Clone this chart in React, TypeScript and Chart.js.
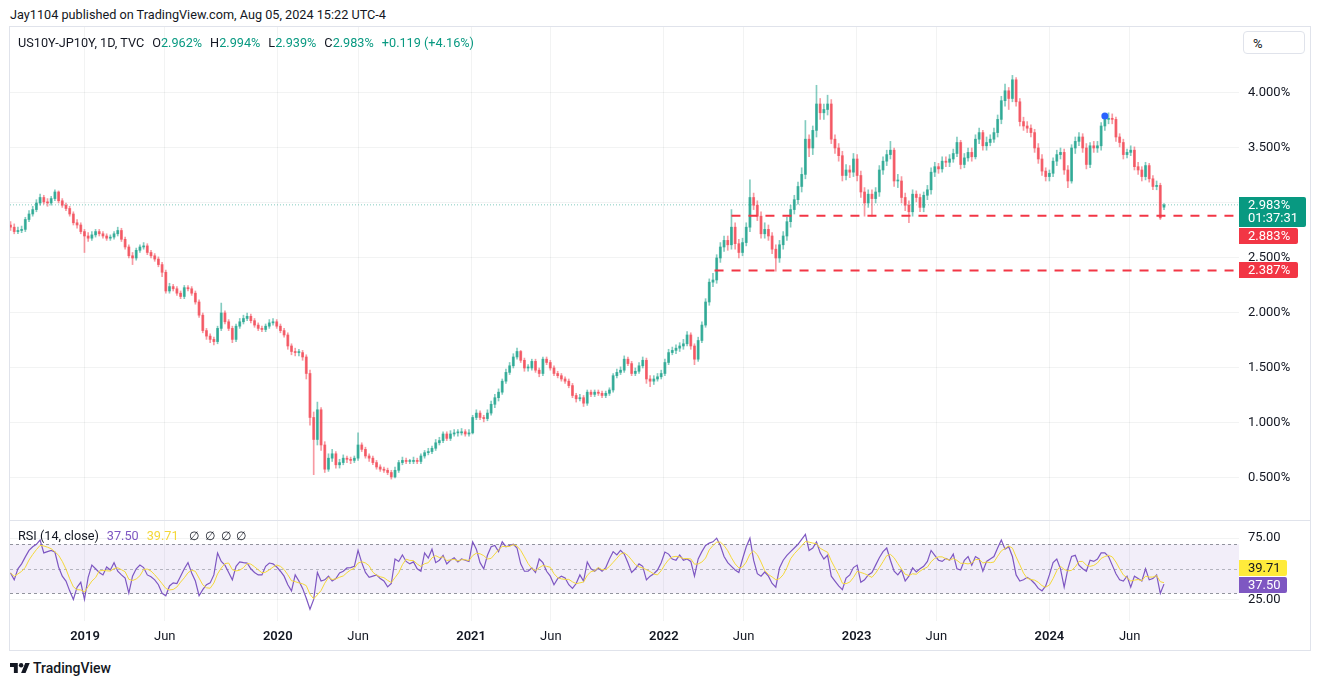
import React, { useEffect, useRef } from "react";
import { Chart, registerables } from "chart.js";
Chart.register(...registerables);

const FONT = "Roboto, 'Liberation Sans', Arial, sans-serif";
const TEXT = "#131722";
const UP = "#089981";
const DOWN = "#F23645";
const GRID = "rgba(42,46,57,0.06)";
const RSI_COLOR = "#7E57C2";
const MA_COLOR = "#F4D83A";

// ---------- data ----------
const firstBarDate = "2018-08-13"; // weekly bars, Monday dates
const firstOpen = 2.8;
const lastOpen = 2.962;

const closes = [
  2.78, 2.74, 2.75, 2.76, 2.85, 2.9, 2.94, 3.0, 3.05, 3.01,
  3.0, 3.04, 3.1, 3.02, 2.98, 2.95, 2.9, 2.82, 2.8, 2.74,
  2.7, 2.68, 2.71, 2.74, 2.72, 2.7, 2.68, 2.69, 2.72, 2.75,
  2.67, 2.6, 2.52, 2.5, 2.57, 2.6, 2.61, 2.55, 2.52, 2.49,
  2.44, 2.37, 2.2, 2.24, 2.22, 2.18, 2.15, 2.23, 2.22, 2.18,
  2.1, 1.98, 1.84, 1.79, 1.76, 1.74, 1.86, 2.0, 1.92, 1.86,
  1.76, 1.88, 1.92, 1.95, 1.97, 1.93, 1.89, 1.86, 1.85, 1.88,
  1.91, 1.92, 1.88, 1.84, 1.8, 1.7, 1.65, 1.64, 1.64, 1.6,
  1.45, 1.05, 0.85, 1.12, 0.8, 0.58, 0.68, 0.72, 0.62, 0.64,
  0.68, 0.67, 0.66, 0.68, 0.8, 0.76, 0.7, 0.68, 0.64, 0.6,
  0.58, 0.57, 0.55, 0.51, 0.57, 0.64, 0.66, 0.65, 0.65, 0.66,
  0.65, 0.7, 0.73, 0.74, 0.77, 0.82, 0.84, 0.9, 0.86, 0.9,
  0.91, 0.91, 0.92, 0.9, 0.91, 1.05, 1.09, 1.05, 1.04, 1.09,
  1.17, 1.23, 1.28, 1.38, 1.46, 1.52, 1.6, 1.65, 1.57, 1.5,
  1.5, 1.56, 1.48, 1.45, 1.58, 1.55, 1.5, 1.45, 1.43, 1.4,
  1.38, 1.34, 1.25, 1.22, 1.23, 1.18, 1.28, 1.26, 1.28, 1.27,
  1.25, 1.27, 1.3, 1.43, 1.46, 1.48, 1.58, 1.54, 1.45, 1.47,
  1.52, 1.57, 1.4, 1.38, 1.4, 1.42, 1.45, 1.55, 1.64, 1.66,
  1.68, 1.7, 1.72, 1.8, 1.7, 1.58, 1.75, 1.89, 2.1, 2.28,
  2.3, 2.5, 2.6, 2.66, 2.62, 2.78, 2.63, 2.55, 2.64, 2.78,
  3.05, 2.98, 2.88, 2.72, 2.76, 2.7, 2.58, 2.5, 2.62, 2.7,
  2.83, 2.94, 3.03, 3.15, 3.26, 3.58, 3.5, 3.66, 3.9, 3.82,
  3.85, 3.9, 3.58, 3.5, 3.43, 3.25, 3.3, 3.28, 3.4, 3.25,
  3.1, 3.0, 3.08, 3.04, 3.1, 3.3, 3.38, 3.44, 3.48, 3.2,
  3.2, 3.05, 2.98, 2.92, 3.08, 3.05, 2.96, 3.07, 3.12, 3.28,
  3.33, 3.31, 3.38, 3.37, 3.4, 3.45, 3.55, 3.35, 3.41, 3.46,
  3.42, 3.58, 3.64, 3.52, 3.55, 3.58, 3.64, 3.76, 3.93, 4.02,
  3.95, 4.12, 3.92, 3.74, 3.7, 3.68, 3.64, 3.5, 3.4, 3.29,
  3.24, 3.27, 3.38, 3.44, 3.46, 3.3, 3.2, 3.5, 3.56, 3.6,
  3.5, 3.35, 3.52, 3.5, 3.52, 3.7, 3.76, 3.77, 3.76, 3.6,
  3.55, 3.44, 3.46, 3.48, 3.33, 3.3, 3.24, 3.34, 3.22, 3.15,
  3.16, 2.864, 2.983,
];

const highs = [
  2.83, 2.81, 2.78, 2.79, 2.87, 2.93, 2.97, 3.03, 3.08, 3.07,
  3.04, 3.06, 3.12, 3.11, 3.04, 3.0, 2.97, 2.92, 2.85, 2.82,
  2.76, 2.73, 2.74, 2.76, 2.76, 2.74, 2.72, 2.71, 2.74, 2.78,
  2.77, 2.69, 2.62, 2.55, 2.59, 2.62, 2.64, 2.63, 2.57, 2.54,
  2.51, 2.46, 2.39, 2.27, 2.26, 2.24, 2.2, 2.25, 2.25, 2.24,
  2.2, 2.12, 2.0, 1.86, 1.81, 1.78, 1.88, 2.09, 2.02, 1.94,
  1.88, 1.9, 1.95, 1.98, 2.0, 1.99, 1.95, 1.91, 1.88, 1.9,
  1.94, 1.95, 1.94, 1.9, 1.86, 1.82, 1.72, 1.68, 1.67, 1.66,
  1.62, 1.48, 1.1, 1.19, 1.14, 0.83, 0.72, 0.76, 0.74, 0.67,
  0.71, 0.7, 0.69, 0.7, 0.91, 0.82, 0.78, 0.72, 0.7, 0.66,
  0.62, 0.6, 0.59, 0.57, 0.6, 0.66, 0.69, 0.68, 0.67, 0.69,
  0.68, 0.72, 0.75, 0.77, 0.79, 0.85, 0.87, 0.92, 0.92, 0.93,
  0.94, 0.94, 0.95, 0.94, 0.94, 1.07, 1.12, 1.11, 1.07, 1.12,
  1.2, 1.26, 1.31, 1.4, 1.49, 1.55, 1.63, 1.68, 1.66, 1.59,
  1.53, 1.58, 1.58, 1.5, 1.6, 1.6, 1.57, 1.52, 1.47, 1.45,
  1.42, 1.4, 1.36, 1.27, 1.26, 1.25, 1.3, 1.3, 1.3, 1.3,
  1.29, 1.29, 1.32, 1.45, 1.49, 1.51, 1.61, 1.6, 1.56, 1.5,
  1.55, 1.6, 1.59, 1.43, 1.43, 1.45, 1.48, 1.58, 1.67, 1.69,
  1.71, 1.73, 1.76, 1.83, 1.82, 1.72, 1.78, 1.92, 2.13, 2.31,
  2.36, 2.53, 2.64, 2.7, 2.7, 2.94, 2.82, 2.67, 2.68, 2.82,
  3.21, 3.09, 3.02, 2.92, 2.82, 2.8, 2.73, 2.62, 2.66, 2.74,
  2.87, 2.98, 3.07, 3.19, 3.32, 3.75, 3.62, 3.7, 4.07, 3.95,
  3.9, 3.98, 3.94, 3.62, 3.54, 3.47, 3.35, 3.34, 3.45, 3.44,
  3.29, 3.14, 3.12, 3.12, 3.14, 3.34, 3.42, 3.48, 3.56, 3.5,
  3.26, 3.24, 3.09, 3.02, 3.12, 3.11, 3.08, 3.1, 3.16, 3.32,
  3.37, 3.36, 3.42, 3.42, 3.44, 3.49, 3.6, 3.57, 3.45, 3.5,
  3.5, 3.62, 3.68, 3.66, 3.6, 3.62, 3.68, 3.8, 3.97, 4.08,
  4.05, 4.16, 4.14, 3.95, 3.78, 3.74, 3.71, 3.67, 3.54, 3.44,
  3.32, 3.3, 3.41, 3.48, 3.5, 3.49, 3.34, 3.53, 3.6, 3.64,
  3.63, 3.54, 3.55, 3.56, 3.56, 3.73, 3.8, 3.82, 3.81, 3.78,
  3.63, 3.58, 3.49, 3.52, 3.51, 3.37, 3.33, 3.37, 3.36, 3.25,
  3.2, 3.18, 2.994,
];

const lows = [
  2.75, 2.72, 2.72, 2.73, 2.74, 2.83, 2.88, 2.92, 2.98, 2.99,
  2.97, 2.98, 3.02, 3.0, 2.96, 2.93, 2.88, 2.8, 2.77, 2.72,
  2.55, 2.65, 2.66, 2.69, 2.7, 2.68, 2.66, 2.66, 2.67, 2.7,
  2.65, 2.58, 2.5, 2.44, 2.48, 2.55, 2.58, 2.53, 2.5, 2.47,
  2.42, 2.33, 2.18, 2.18, 2.2, 2.16, 2.13, 2.13, 2.2, 2.16,
  2.08, 1.96, 1.82, 1.76, 1.73, 1.71, 1.72, 1.84, 1.9, 1.84,
  1.73, 1.74, 1.86, 1.9, 1.93, 1.91, 1.87, 1.84, 1.83, 1.83,
  1.86, 1.89, 1.86, 1.82, 1.78, 1.67, 1.62, 1.61, 1.61, 1.57,
  1.4, 0.98, 0.53, 0.8, 0.75, 0.55, 0.56, 0.65, 0.59, 0.59,
  0.62, 0.64, 0.63, 0.64, 0.66, 0.74, 0.68, 0.65, 0.62, 0.58,
  0.56, 0.55, 0.53, 0.49, 0.5, 0.55, 0.62, 0.63, 0.63, 0.63,
  0.63, 0.63, 0.68, 0.71, 0.72, 0.75, 0.8, 0.82, 0.84, 0.84,
  0.88, 0.88, 0.89, 0.88, 0.88, 0.9, 1.03, 1.03, 1.01, 1.02,
  1.07, 1.14, 1.2, 1.26, 1.36, 1.44, 1.5, 1.58, 1.55, 1.47,
  1.47, 1.48, 1.46, 1.42, 1.43, 1.53, 1.48, 1.43, 1.41, 1.38,
  1.36, 1.32, 1.23, 1.19, 1.2, 1.15, 1.16, 1.24, 1.24, 1.25,
  1.23, 1.23, 1.25, 1.28, 1.41, 1.44, 1.46, 1.52, 1.43, 1.43,
  1.45, 1.5, 1.36, 1.33, 1.35, 1.38, 1.4, 1.43, 1.53, 1.62,
  1.63, 1.65, 1.67, 1.7, 1.67, 1.53, 1.56, 1.73, 1.87, 2.07,
  2.24, 2.27, 2.46, 2.56, 2.57, 2.58, 2.58, 2.5, 2.52, 2.61,
  2.74, 2.94, 2.84, 2.68, 2.68, 2.66, 2.54, 2.38, 2.46, 2.58,
  2.66, 2.78, 2.9, 2.99, 3.1, 3.22, 3.42, 3.44, 3.6, 3.76,
  3.76, 3.8, 3.54, 3.45, 3.38, 3.2, 3.21, 3.23, 3.24, 3.2,
  3.05, 2.88, 2.96, 2.88, 3.0, 3.06, 3.26, 3.34, 3.4, 3.15,
  3.14, 3.0, 2.93, 2.82, 2.88, 3.01, 2.92, 2.92, 3.03, 3.08,
  3.24, 3.27, 3.28, 3.33, 3.33, 3.37, 3.42, 3.31, 3.32, 3.38,
  3.38, 3.4, 3.54, 3.48, 3.48, 3.52, 3.55, 3.6, 3.72, 3.88,
  3.85, 3.92, 3.88, 3.7, 3.66, 3.64, 3.6, 3.46, 3.36, 3.25,
  3.2, 3.2, 3.24, 3.34, 3.4, 3.26, 3.14, 3.18, 3.45, 3.52,
  3.46, 3.31, 3.32, 3.46, 3.46, 3.48, 3.66, 3.72, 3.72, 3.56,
  3.51, 3.4, 3.41, 3.43, 3.3, 3.26, 3.2, 3.21, 3.19, 3.12,
  3.12, 2.85, 2.939,
];

const rsiValues = [
  46.6, 41, 50, 54, 59.7, 65, 68, 70, 73.5, 63,
  64, 65, 63.7, 51.5, 44, 40, 32, 25, 35, 39,
  25, 43, 53, 50, 47, 45, 51.5, 49, 55, 48,
  45, 42.5, 30.2, 44, 50, 53, 51, 45, 43.5, 41,
  37, 30, 28, 36, 38.5, 38, 44, 50, 55, 46.6,
  40, 28, 33, 37, 38.5, 45, 62.9, 56, 53, 47,
  41, 52, 55.6, 55, 54.7, 50, 47, 45, 45, 52,
  54.7, 54, 51.5, 48, 44, 37, 32, 45, 40, 34,
  26, 17, 25, 47, 40, 41, 44, 40, 42, 46.6,
  48, 50.7, 51, 52, 65, 55, 47, 43, 44, 45,
  42, 40, 35.2, 38, 58, 56, 61.3, 56, 54, 55.6,
  50, 48, 63, 58.8, 66, 55, 57, 61, 54, 57,
  59, 55.6, 58, 57, 56, 72, 66, 55, 50, 61,
  68, 69, 64, 72, 68, 69, 70, 67, 54, 48,
  48, 50.7, 47, 58, 55, 48, 44, 37, 42, 44,
  42.5, 37, 34, 38, 45, 40, 55.6, 50, 48, 50.7,
  48, 51, 58, 64, 61.3, 65, 62, 55, 47, 50,
  54, 52, 41, 44, 46, 49, 55, 63.7, 62, 58,
  57, 61.3, 57, 58, 56, 44, 58, 64, 69, 71,
  72, 75, 69, 60, 55, 52, 49, 47, 58, 68,
  75, 57, 46, 44, 47.4, 44, 38, 35, 50.7, 57,
  61, 64, 67, 70, 74, 78, 65, 67, 72, 63,
  58, 61, 44, 40, 36, 33, 42.5, 45, 51, 53,
  39, 41, 45, 47, 53, 59, 64, 67, 57, 48,
  45, 49, 40, 44, 50.7, 47.4, 50, 52, 56, 65,
  61, 57, 56, 58.5, 57, 62, 50, 49, 57, 60,
  53, 60, 58, 48, 56, 58, 60, 67, 73.5, 66,
  68, 60, 45, 40, 41, 43, 41, 38, 34, 32,
  36, 45, 55, 58, 50, 35, 50, 60, 61, 53,
  50, 48, 57, 56, 58, 63, 63, 60, 53, 46,
  41, 40, 44, 35, 44, 42, 40, 50, 41, 42,
  45, 30, 37.5,
];
const rsiMaLength = 4;
const rsiMaLast = 39.71;

const tickDates = [
  "2019-01-01", "2019-06-01", "2020-01-01", "2020-06-01", "2021-01-01", "2021-06-01",
  "2022-01-01", "2022-06-01", "2023-01-01", "2023-06-01", "2024-01-01", "2024-06-01",
];
const tickLabels = ["2019", "Jun", "2020", "Jun", "2021", "Jun", "2022", "Jun", "2023", "Jun", "2024", "Jun"];
const priceTicks = [0.5, 1, 1.5, 2, 2.5, 3, 3.5, 4];
const rsiTicks = [25, 75];
const rsiBands = [70, 50, 30];

const rayLevels = [2.883, 2.387];
const rayStarts = ["2022-05-09", "2022-04-07"];
const markerDate = "2024-04-15";
const markerValue = 3.79;
const countdown = "01:37:31";

// axis ranges (layout)
const X_MIN_DATE = "2018-08-12";
const X_MAX_DATE = "2024-12-25";
const PRICE_MIN = 0.118;
const PRICE_MAX = 4.609;
const RSI_MIN = 7.4;
const RSI_MAX = 89.0;

// ---------- derived ----------
const EPOCH = Date.UTC(2019, 0, 1);
const day = (s: string) => (Date.parse(s + "T00:00:00Z") - EPOCH) / 86400000;
const X_MIN = day(X_MIN_DATE);
const X_MAX = day(X_MAX_DATE);
const barDays = closes.map((_, i) => day(firstBarDate) + 7 * i);
const opens = closes.map((c, i) => (i === 0 ? firstOpen : i === closes.length - 1 ? lastOpen : closes[i - 1]));
const tickDays = tickDates.map(day);
const lastClose = closes[closes.length - 1];
const rsiMa = rsiValues.map((_, i) => {
  const s = Math.max(0, i - rsiMaLength + 1);
  const w = rsiValues.slice(s, i + 1);
  return w.reduce((a, b) => a + b, 0) / w.length;
});
const rsiLast = rsiValues[rsiValues.length - 1];

function box(ctx: CanvasRenderingContext2D, x: number, y: number, w: number, h: number, r: number, color: string) {
  ctx.beginPath();
  ctx.moveTo(x, y);
  ctx.lineTo(x + w - r, y);
  ctx.quadraticCurveTo(x + w, y, x + w, y + r);
  ctx.lineTo(x + w, y + h - r);
  ctx.quadraticCurveTo(x + w, y + h, x + w - r, y + h);
  ctx.lineTo(x, y + h);
  ctx.closePath();
  ctx.fillStyle = color;
  ctx.fill();
}

const mainLabels = {
  id: "mainLabels",
  afterDraw(chart: any) {
    const { ctx, chartArea, scales } = chart;
    const y = scales.y;
    const left = chartArea.right;
    ctx.save();
    ctx.font = `13px ${FONT}`;
    ctx.textBaseline = "middle";
    ctx.textAlign = "left";
    const yc = y.getPixelForValue(lastClose);
    const top = Math.round(yc - 7.5);
    box(ctx, left, top, 67, 30, 2, UP);
    ctx.fillStyle = "#fff";
    ctx.fillText(lastClose.toFixed(3) + "%", left + 9, top + 8.5);
    ctx.fillText(countdown, left + 9, top + 22);
    let prevBottom = top + 30;
    rayLevels.forEach((lv) => {
      let bt = Math.round(y.getPixelForValue(lv) - 8);
      if (bt < prevBottom + 1) bt = prevBottom + 1;
      box(ctx, left, bt, 59, 16, 2, DOWN);
      ctx.fillStyle = "#fff";
      ctx.fillText(lv.toFixed(3) + "%", left + 9, bt + 8.5);
      prevBottom = bt + 16;
    });
    ctx.restore();
  },
};

const rsiDecor = {
  id: "rsiDecor",
  beforeDatasetsDraw(chart: any) {
    const { ctx, chartArea, scales } = chart;
    const y = scales.y;
    ctx.save();
    const t = y.getPixelForValue(rsiBands[0]);
    const b = y.getPixelForValue(rsiBands[2]);
    ctx.fillStyle = "rgba(126,87,194,0.1)";
    ctx.fillRect(chartArea.left, t, chartArea.right - chartArea.left, b - t);
    ctx.setLineDash([3, 3]);
    ctx.lineWidth = 1;
    rsiBands.forEach((v, k) => {
      const py = Math.round(y.getPixelForValue(v)) + 0.5;
      ctx.strokeStyle = k === 1 ? "rgba(120,123,134,0.5)" : "rgba(120,123,134,0.8)";
      ctx.beginPath();
      ctx.moveTo(chartArea.left, py);
      ctx.lineTo(chartArea.right, py);
      ctx.stroke();
    });
    ctx.restore();
  },
  afterDraw(chart: any) {
    const { ctx, chartArea, scales } = chart;
    const y = scales.y;
    const left = chartArea.right;
    ctx.save();
    ctx.font = `13px ${FONT}`;
    ctx.textBaseline = "middle";
    const pt = Math.round(y.getPixelForValue(rsiLast) - 7.5);
    box(ctx, left, pt, 48, 16, 2, RSI_COLOR);
    ctx.fillStyle = "#fff";
    ctx.fillText(rsiLast.toFixed(2), left + 9, pt + 8.5);
    const yt = pt - 17;
    box(ctx, left, yt, 48, 16, 2, "#FFEB3B");
    ctx.fillStyle = TEXT;
    ctx.fillText(rsiMaLast.toFixed(2), left + 9, yt + 8.5);
    ctx.restore();
  },
};

const noPad = (s: any) => {
  s.paddingTop = 0;
  s.paddingBottom = 0;
  s.paddingLeft = 0;
  s.paddingRight = 0;
};

export default function App() {
  const mainRef = useRef<HTMLCanvasElement>(null);
  const rsiRef = useRef<HTMLCanvasElement>(null);

  useEffect(() => {
    Chart.defaults.font.family = FONT;
    Chart.defaults.color = TEXT;
    const upDown = closes.map((c, i) => (c >= opens[i] ? "rgba(8,153,129,0.66)" : "rgba(242,54,69,0.66)"));
    const wickCol = closes.map((c, i) => (c >= opens[i] ? "rgba(8,153,129,0.5)" : "rgba(242,54,69,0.5)"));

    const xScale = (showTicks: boolean) => ({
      type: "linear",
      min: X_MIN,
      max: X_MAX,
      offset: false,
      grid: { color: GRID, drawTicks: false, offset: false },
      border: { display: false },
      afterBuildTicks: (s: any) => {
        s.ticks = tickDays.map((v) => ({ value: v }));
      },
      ticks: {
        display: showTicks,
        autoSkip: false,
        maxRotation: 0,
        padding: 8,
        color: TEXT,
        font: (c: any) => ({ family: FONT, size: 13, weight: c.index % 2 === 0 ? "600" : "400" }),
        callback: (v: any) => {
          const k = tickDays.indexOf(v);
          return k >= 0 ? tickLabels[k] : "";
        },
      },
      afterFit: (s: any) => {
        s.height = showTicks ? 29 : 0;
        noPad(s);
      },
    });

    const yScale = (min: number, max: number, ticks: number[], fmt: (v: number) => string) => ({
      type: "linear",
      position: "right",
      min,
      max,
      grid: { color: GRID, drawTicks: false },
      border: { display: false },
      afterBuildTicks: (s: any) => {
        s.ticks = ticks.map((v) => ({ value: v }));
      },
      ticks: {
        padding: 9,
        color: TEXT,
        font: { family: FONT, size: 13 },
        callback: (v: any) => fmt(Number(v)),
      },
      afterFit: (s: any) => {
        s.width = 71;
        noPad(s);
      },
    });

    const main = new Chart(mainRef.current as HTMLCanvasElement, {
      type: "bar",
      data: {
        datasets: [
          ...rayLevels.map((lv, k) => ({
            type: "line",
            data: [
              { x: day(rayStarts[k]), y: lv },
              { x: X_MAX, y: lv },
            ],
            borderColor: DOWN,
            borderWidth: 2,
            borderDash: [9, 8],
            pointRadius: 0,
            pointHoverRadius: 0,
            fill: false,
          })),
          {
            type: "scatter",
            data: [{ x: day(markerDate), y: markerValue }],
            pointRadius: 3.5,
            backgroundColor: "#2962FF",
            borderWidth: 0,
          },
          {
            type: "bar",
            data: barDays.map((x, i) => ({ x, y: [opens[i], closes[i]] })),
            backgroundColor: upDown,
            borderWidth: 0,
            barThickness: 2.2,
            maxBarThickness: 2.2,
            minBarLength: 1,
            grouped: false,
          },
          {
            type: "bar",
            data: barDays.map((x, i) => ({ x, y: [lows[i], highs[i]] })),
            backgroundColor: wickCol,
            borderWidth: 0,
            barThickness: 1,
            maxBarThickness: 1,
            grouped: false,
          },
          {
            type: "line",
            data: [
              { x: X_MIN, y: lastClose },
              { x: X_MAX, y: lastClose },
            ],
            borderColor: "rgba(8,153,129,0.5)",
            borderWidth: 1,
            borderDash: [1, 2],
            pointRadius: 0,
            pointHoverRadius: 0,
            fill: false,
          },
        ] as any,
      },
      options: {
        animation: false,
        responsive: false,
        maintainAspectRatio: false,
        layout: { padding: 0, autoPadding: false },
        plugins: { legend: { display: false }, tooltip: { enabled: false } },
        scales: {
          x: xScale(false) as any,
          y: yScale(PRICE_MIN, PRICE_MAX, priceTicks, (v) => v.toFixed(3) + "%") as any,
        },
      } as any,
      plugins: [mainLabels],
    });

    const rsi = new Chart(rsiRef.current as HTMLCanvasElement, {
      type: "line",
      data: {
        datasets: [
          {
            data: barDays.map((x, i) => ({ x, y: rsiMa[i] })),
            borderColor: MA_COLOR,
            borderWidth: 1,
            pointRadius: 0,
            pointHoverRadius: 0,
            tension: 0,
            fill: false,
          },
          {
            data: barDays.map((x, i) => ({ x, y: rsiValues[i] })),
            borderColor: RSI_COLOR,
            borderWidth: 1.2,
            pointRadius: 0,
            pointHoverRadius: 0,
            tension: 0,
            fill: false,
          },
        ],
      },
      options: {
        animation: false,
        responsive: false,
        maintainAspectRatio: false,
        layout: { padding: 0, autoPadding: false },
        plugins: { legend: { display: false }, tooltip: { enabled: false } },
        scales: {
          x: xScale(true) as any,
          y: yScale(RSI_MIN, RSI_MAX, rsiTicks, (v) => v.toFixed(2)) as any,
        },
      } as any,
      plugins: [rsiDecor],
    });

    return () => {
      main.destroy();
      rsi.destroy();
    };
  }, []);

  const abs = (l: number, t: number, extra: any = {}) => ({ position: "absolute" as const, left: l, top: t, ...extra });
  const valStyle = { color: UP };

  return (
    <div style={{ position: "absolute", left: 0, top: 0, width: 1320, height: 685, background: "#fff", fontFamily: FONT, color: TEXT, overflow: "hidden" }}>
      <div style={abs(10, 7, { fontSize: 12.7, whiteSpace: "nowrap" })}>
        Jay1104 published on TradingView.com, Aug 05, 2024 15:22 UTC-4
      </div>
      <canvas ref={mainRef} width={1300} height={494} style={abs(10, 26)} />
      <canvas ref={rsiRef} width={1300} height={129} style={abs(10, 521)} />
      {/* frame */}
      <div style={abs(9, 26, { width: 1300, height: 623, border: "1px solid #e0e3eb", boxSizing: "content-box", pointerEvents: "none" })} />
      <div style={abs(10, 520, { width: 1300, height: 1, background: "#e0e3eb" })} />
      {/* % button */}
      <div style={abs(1243, 31, { width: 62, height: 23, border: "1px solid #e0e3eb", borderRadius: 4, background: "#fff", fontSize: 13, lineHeight: "23px", paddingLeft: 9, boxSizing: "border-box" })}>%</div>
      {/* legend */}
      <div style={abs(18, 35, { fontSize: 12.7, whiteSpace: "nowrap", lineHeight: "16px" })}>
        <span>US10Y-JP10Y, 1D, TVC</span>
        <span style={{ marginLeft: 8 }}>O</span><span style={valStyle}>2.962%</span>
        <span style={{ marginLeft: 8 }}>H</span><span style={valStyle}>2.994%</span>
        <span style={{ marginLeft: 8 }}>L</span><span style={valStyle}>2.939%</span>
        <span style={{ marginLeft: 8 }}>C</span><span style={valStyle}>2.983%</span>
        <span style={{ marginLeft: 8, color: UP }}>+0.119 (+4.16%)</span>
      </div>
      <div style={abs(18, 528, { fontSize: 12.7, whiteSpace: "nowrap", lineHeight: "16px" })}>
        <span>RSI (14, close)</span>
        <span style={{ marginLeft: 8, color: RSI_COLOR }}>37.50</span>
        <span style={{ marginLeft: 8, color: MA_COLOR }}>39.71</span>
        <span style={{ marginLeft: 10, fontSize: 12 }}>∅&nbsp;&nbsp;∅&nbsp;&nbsp;∅&nbsp;&nbsp;∅</span>
      </div>
      {/* logo */}
      <svg width={20} height={10} viewBox="0 4 36 18" style={abs(10, 663)}>
        <path d="M14 22H7V11H0V4h14v18z" fill={TEXT} />
        <circle cx="20" cy="8" r="4" fill={TEXT} />
        <path d="M28 22h-8l7.5-18h8L28 22z" fill={TEXT} />
      </svg>
      <div style={abs(33, 659, { fontSize: 14, fontWeight: 500, lineHeight: "18px" })}>TradingView</div>
    </div>
  );
}
